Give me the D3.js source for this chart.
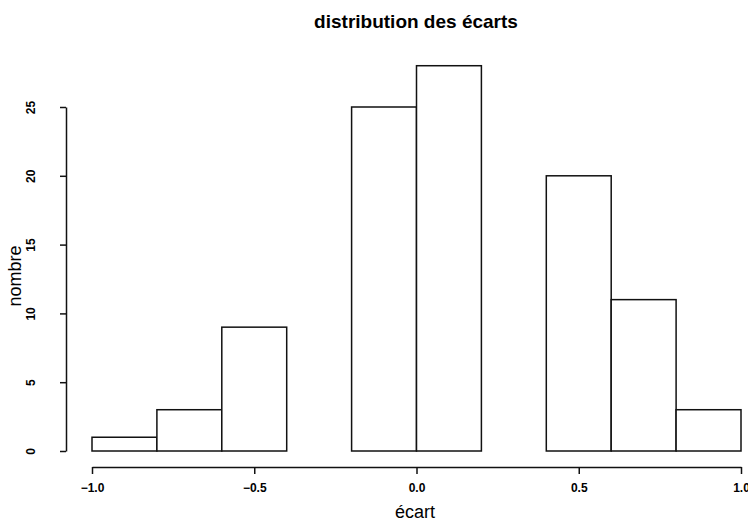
<!DOCTYPE html>
<html>
<head>
<meta charset="utf-8">
<script src="https://cdn.jsdelivr.net/npm/d3@7"></script>
<style>
  body { margin: 0; background: #fff; }
  text { font-family: "Liberation Sans", Arial, sans-serif; fill: #000; }
</style>
</head>
<body>
<div id="chart-area"></div>
<script>
// histogram bins (lower edge, upper edge) and counts
const binStarts = [-1.0, -0.8, -0.6, -0.4, -0.2, 0.0, 0.2, 0.4, 0.6, 0.8]
const binWidth = 0.2
const counts = [1, 3, 9, 0, 25, 28, 0, 20, 11, 3]
const xTicks = [-1.0, -0.5, 0.0, 0.5, 1.0]
const yTicks = [0, 5, 10, 15, 20, 25]

const W = 748
const H = 521

const svg = d3.select('#chart-area')
  .append('svg')
  .attr('width', W)
  .attr('height', H)

const x = d3.scaleLinear()
  .domain([-1, 1])
  .range([92, 741])

const y = d3.scaleLinear()
  .domain([0, 25])
  .range([451, 107])

const fmt = d => d3.format('.1f')(d).replace('-', '\u2212')

// bars
svg.selectAll('rect.bar')
  .data(binStarts.map((s, i) => ({ x0: s, x1: s + binWidth, n: counts[i] })))
  .enter()
  .append('rect')
  .attr('class', 'bar')
  .attr('x', d => x(d.x0))
  .attr('width', d => x(d.x1) - x(d.x0))
  .attr('y', d => y(d.n))
  .attr('height', d => y(0) - y(d.n))
  .attr('fill', 'white')
  .attr('stroke', '#111')
  .attr('stroke-width', 1.5)

// x axis
const xAxis = svg.append('g')
  .attr('transform', 'translate(0,467)')
  .attr('font-size', null)
  .call(d3.axisBottom(x).tickValues(xTicks).tickSize(7).tickSizeOuter(0).tickFormat(fmt))
xAxis.select('.domain').attr('stroke', '#111').attr('stroke-width', 1.5)
xAxis.selectAll('.tick line').attr('stroke', '#111').attr('stroke-width', 1.5)
xAxis.selectAll('.tick text')
  .attr('y', 16)
  .attr('dy', '0.71em')
  .attr('font-size', 12)
  .attr('font-weight', 'bold')
  .attr('font-family', '"Liberation Sans", Arial, sans-serif')

// y axis
const yAxis = svg.append('g')
  .attr('transform', 'translate(66,0)')
  .call(d3.axisLeft(y).tickValues(yTicks).tickSize(6).tickSizeOuter(0))
yAxis.select('.domain').attr('stroke', '#111').attr('stroke-width', 1.5)
yAxis.selectAll('.tick line').attr('stroke', '#111').attr('stroke-width', 1.5)
yAxis.selectAll('.tick text')
  .attr('x', 0)
  .attr('dy', 0)
  .attr('text-anchor', 'middle')
  .attr('transform', 'translate(-35,0) rotate(-90)')
  .attr('dominant-baseline', 'central')
  .attr('font-size', 12)
  .attr('font-weight', 'bold')
  .attr('font-family', '"Liberation Sans", Arial, sans-serif')

// title
svg.append('text')
  .attr('x', 416)
  .attr('y', 28)
  .attr('text-anchor', 'middle')
  .style('font-size', '19px')
  .style('font-weight', 'bold')
  .text('distribution des écarts')

// axis labels
svg.append('text')
  .attr('x', 415)
  .attr('y', 518)
  .attr('text-anchor', 'middle')
  .style('font-size', '18px')
  .text('écart')

svg.append('text')
  .attr('transform', 'translate(21,276) rotate(-90)')
  .attr('text-anchor', 'middle')
  .style('font-size', '18px')
  .text('nombre')
</script>
</body>
</html>
